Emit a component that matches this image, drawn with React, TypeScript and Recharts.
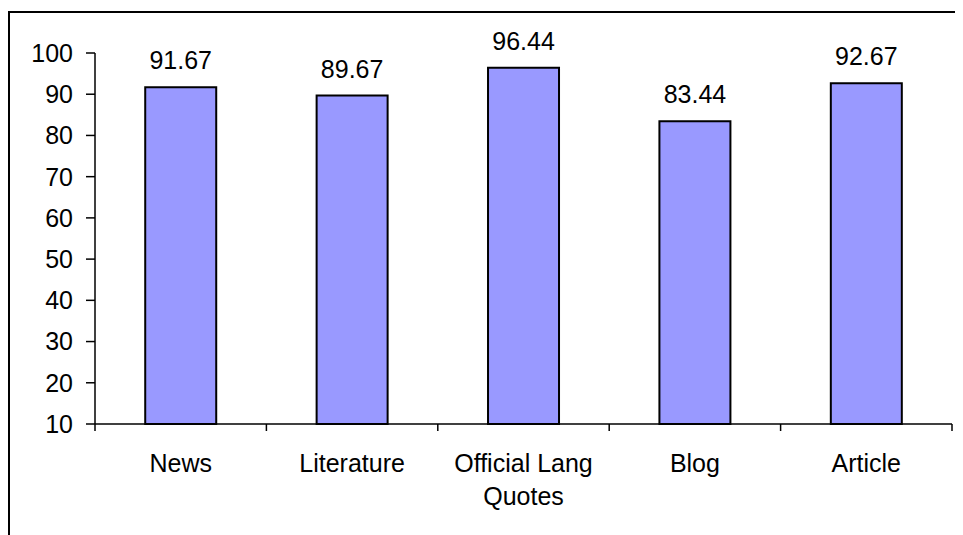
import React from 'react';
import { BarChart, Bar, XAxis, YAxis, LabelList } from 'recharts';

const categories = ['News', 'Literature', 'Official Lang Quotes', 'Blog', 'Article'];
const scores = [91.67, 89.67, 96.44, 83.44, 92.67];
const yTicks = [10, 20, 30, 40, 50, 60, 70, 80, 90, 100];

const data = categories.map((name, i) => ({ name, value: scores[i] }));

const FONT = '"Liberation Sans", Arial, sans-serif';
const FS = 25;

let ctx: CanvasRenderingContext2D | null = null;
const measure = (s: string) => {
  if (!ctx) {
    const c = document.createElement('canvas');
    ctx = c.getContext('2d');
  }
  if (!ctx) return s.length * FS * 0.55;
  ctx.font = `${FS}px ${FONT}`;
  return ctx.measureText(s).width;
};

const wrap = (text: string, maxWidth: number) => {
  const words = String(text).split(' ');
  const lines: string[] = [];
  let cur = '';
  words.forEach((w) => {
    const test = cur ? cur + ' ' + w : w;
    if (cur && measure(test) > maxWidth) {
      lines.push(cur);
      cur = w;
    } else {
      cur = test;
    }
  });
  if (cur) lines.push(cur);
  return lines;
};

const CategoryTick = (props: any) => {
  const { x, y, payload, index, visibleTicksCount, width } = props;
  const half =
    payload && typeof payload.offset === 'number' && payload.offset > 0
      ? payload.offset
      : width / visibleTicksCount / 2;
  const isLast = index === visibleTicksCount - 1;
  const lines = wrap(payload.value, half * 2 - 10);
  return (
    <g>
      <line x1={x - half} x2={x - half} y1={y} y2={y + 7} stroke="#000" strokeWidth={1.5} />
      {isLast && <line x1={x + half} x2={x + half} y1={y} y2={y + 7} stroke="#000" strokeWidth={1.5} />}
      <text x={x} y={y + 48} textAnchor="middle" fontSize={FS} fontFamily={FONT} fill="#000">
        {lines.map((l, i) => (
          <tspan key={i} x={x} dy={i === 0 ? 0 : 33}>
            {l}
          </tspan>
        ))}
      </text>
    </g>
  );
};

export default function App() {
  return (
    <div
      style={{
        width: 955,
        height: 524,
        marginTop: 3,
        borderLeft: '2px solid #000',
        borderTop: '2px solid #000',
        boxSizing: 'border-box',
        fontFamily: FONT,
        background: '#fff',
      }}
    >
      <BarChart
        width={953}
        height={522}
        data={data}
        margin={{ top: 40, right: 11, bottom: 11, left: 0 }}
        barCategoryGap="29.3%"
      >
        <XAxis
          dataKey="name"
          type="category"
          height={100}
          interval={0}
          tickLine={false}
          tickSize={0}
          tickMargin={0}
          axisLine={{ stroke: '#000', strokeWidth: 1.5 }}
          tick={<CategoryTick />}
        />
        <YAxis
          type="number"
          domain={[10, 100]}
          ticks={yTicks}
          interval={0}
          width={85}
          tickSize={9}
          tickMargin={13}
          axisLine={{ stroke: '#000', strokeWidth: 1.5 }}
          tickLine={{ stroke: '#000', strokeWidth: 1.5 }}
          tick={{ fontSize: FS, fill: '#000', fontFamily: FONT }}
        />
        <Bar dataKey="value" fill="#9999FF" stroke="#000" strokeWidth={2} isAnimationActive={false}>
          <LabelList dataKey="value" position="top" offset={18} fill="#000" fontSize={FS} fontFamily={FONT} />
        </Bar>
      </BarChart>
    </div>
  );
}
